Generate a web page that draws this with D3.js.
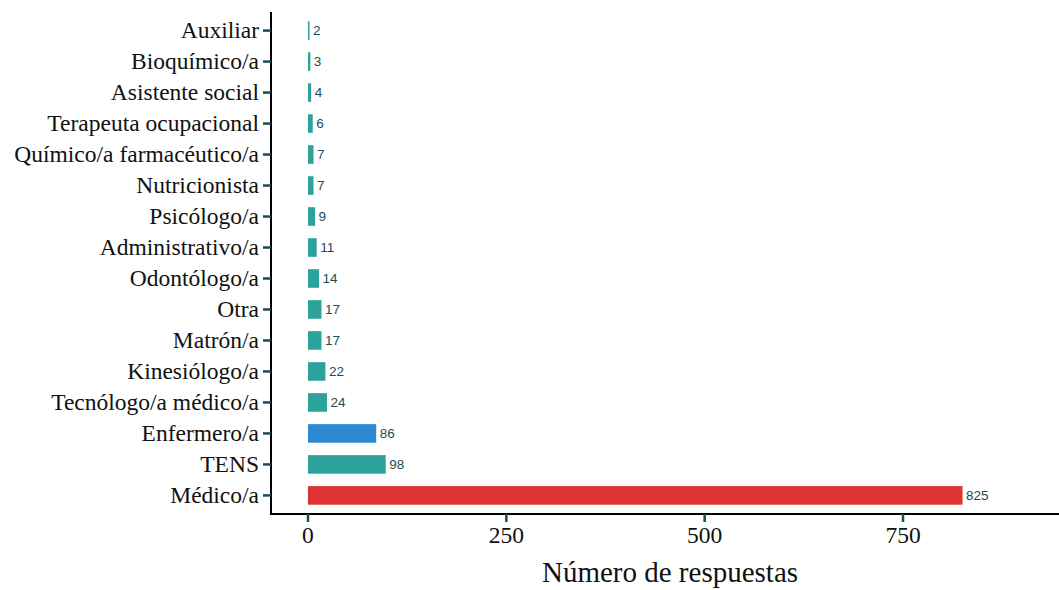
<!DOCTYPE html>
<html><head><meta charset="utf-8">
<script src="https://cdn.jsdelivr.net/npm/d3@7"></script>
<style>body{margin:0;background:#fff}</style>
</head><body>
<svg id="c" width="1059" height="590"></svg>
<script>
const categories = ["Auxiliar","Bioquímico/a","Asistente social","Terapeuta ocupacional","Químico/a farmacéutico/a","Nutricionista","Psicólogo/a","Administrativo/a","Odontólogo/a","Otra","Matrón/a","Kinesiólogo/a","Tecnólogo/a médico/a","Enfermero/a","TENS","Médico/a"];
const values = [2,3,4,6,7,7,9,11,14,17,17,22,24,86,98,825];
const groups = ["other","other","other","other","other","other","other","other","other","other","other","other","other","nurse","other","doctor"];
const xTicks = [0,250,500,750];
const colors = {other:"#2ca39a", nurse:"#2b8ad3", doctor:"#dd3331"};

(function(){
const svg = d3.select("#c");
const pL = 271, pR = 1059, pT = 12, pB = 514;
const x = d3.scaleLinear().domain([-46.6, 946.6]).range([pL, pR]);
const y = d3.scalePoint().domain(categories).range([pT, pB]).padding(0.6);
const step = y.step();
const bh = step * 0.6;

svg.selectAll("rect.bar").data(categories).join("rect").attr("class","bar")
  .attr("x", x(0)).attr("y", d => y(d) - bh/2)
  .attr("width", (d,i) => x(values[i]) - x(0)).attr("height", bh)
  .attr("fill", (d,i) => colors[groups[i]]);

svg.selectAll("text.val").data(categories).join("text").attr("class","val")
  .attr("x", (d,i) => x(values[i]) + 3.5).attr("y", d => y(d)).attr("dy", "0.35em")
  .attr("font-family", "Liberation Sans, Arial, sans-serif").attr("font-size", 13.5)
  .attr("fill", "#1e4b59").text((d,i) => values[i]);

// y axis
const gy = svg.append("g");
gy.append("line").attr("x1", pL).attr("x2", pL).attr("y1", pT).attr("y2", pB+1)
  .attr("stroke", "#000").attr("stroke-width", 2);
gy.selectAll("line.t").data(categories).join("line").attr("class","t")
  .attr("x1", pL-8).attr("x2", pL).attr("y1", d => y(d)).attr("y2", d => y(d))
  .attr("stroke", "#1d4a55").attr("stroke-width", 2.5);
gy.selectAll("text").data(categories).join("text")
  .attr("x", pL-12).attr("y", d => y(d)).attr("dy", "0.32em").attr("text-anchor", "end")
  .attr("font-family", "Liberation Serif, Times New Roman, serif").attr("font-size", 23.5)
  .attr("fill", "#111").text(d => d);

// x axis
const gx = svg.append("g");
gx.append("line").attr("x1", pL-1).attr("x2", pR).attr("y1", pB).attr("y2", pB)
  .attr("stroke", "#000").attr("stroke-width", 2);
gx.selectAll("line.t").data(xTicks).join("line").attr("class","t")
  .attr("x1", d => x(d)).attr("x2", d => x(d)).attr("y1", pB).attr("y2", pB+8)
  .attr("stroke", "#1d4a55").attr("stroke-width", 2.5);
gx.selectAll("text").data(xTicks).join("text")
  .attr("x", d => x(d)).attr("y", pB+29).attr("text-anchor", "middle")
  .attr("font-family", "Liberation Serif, Times New Roman, serif").attr("font-size", 23.5)
  .attr("fill", "#111").text(d => d);

svg.append("text").attr("x", 670).attr("y", 582).attr("text-anchor", "middle")
  .attr("font-family", "Liberation Serif, Times New Roman, serif").attr("font-size", 29)
  .attr("fill", "#111").text("Número de respuestas");
})();
</script>
</body></html>
